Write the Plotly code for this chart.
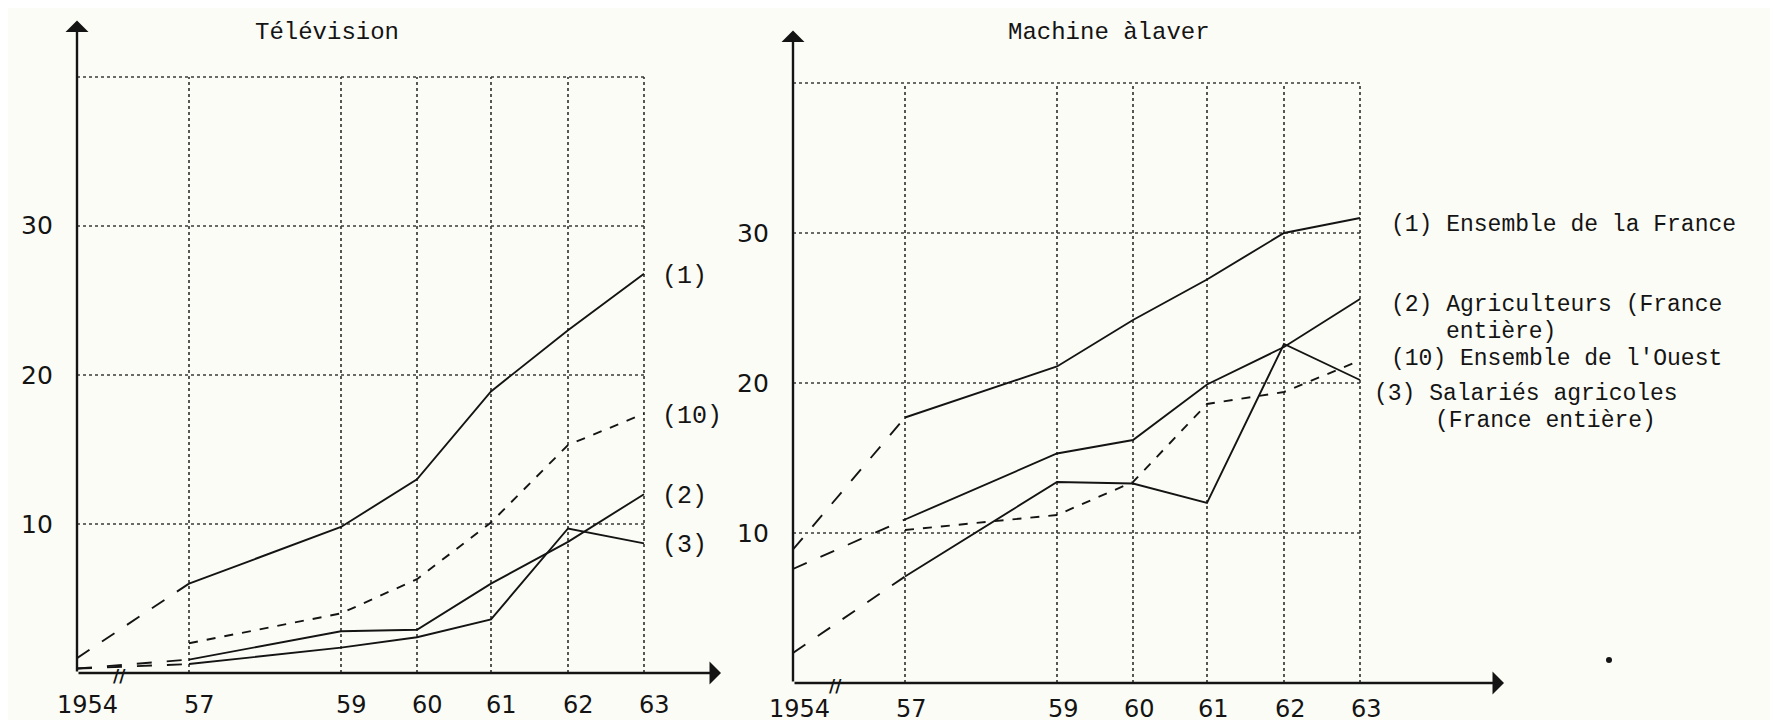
import plotly.graph_objects as go

# ---- data -------------------------------------------------------------
YEAR_LABELS = ["1954", "57", "59", "60", "61", "62", "63"]
# the original time axis is drawn with irregular spacing: position of each year on it
XPOS = [0, 112, 264, 340, 414, 491, 567]

# Télévision (%)
TV_1 = [1.0, 6.0, 9.8, 13.0, 18.9, 23.0, 26.8]       # (1) Ensemble de la France
TV_10 = [None, 2.0, 4.0, 6.3, 10.1, 15.3, 17.4]      # (10) Ensemble de l'Ouest
TV_2 = [0.3, 0.9, 2.8, 2.9, 6.0, 8.8, 12.0]          # (2) Agriculteurs
TV_3 = [0.3, 0.6, 1.7, 2.4, 3.6, 9.7, 8.7]           # (3) Salariés agricoles

# Machine à laver (%)
ML_1 = [8.9, 17.7, 21.1, 24.2, 26.9, 30.0, 31.0]
ML_2 = [7.6, 10.9, 15.3, 16.2, 19.9, 22.4, 25.6]
ML_10 = [None, 10.2, 11.2, 13.4, 18.6, 19.4, 21.5]
ML_3 = [2.0, 7.1, 13.4, 13.3, 12.0, 22.6, 20.2]

GRID_Y = [10, 20, 30, 40]
Y_LABELS = [10, 20, 30]

TITLE_TV = "Télévision"
TITLE_ML = "Machine àlaver"
LEFT_TAGS = ["(1)", "(10)", "(2)", "(3)"]
RIGHT_LEGEND = [
    ("(1) Ensemble de la France", 1382, 217),
    ("(2) Agriculteurs (France", 1382, 297),
    ("entière)", 1437, 324),
    ("(10) Ensemble de l'Ouest", 1382, 351),
    ("(3) Salariés agricoles", 1365, 386),
    ("(France entière)", 1426, 413),
]

W, H = 1778, 720
INK = "#141414"
GRID = "#3a3a3a"
MONO = "Liberation Mono"
HAND = "DejaVu Sans"

fig = go.Figure()

def add_grid(xa, ya):
    for p in XPOS[1:]:
        fig.add_trace(go.Scatter(x=[p, p], y=[0, GRID_Y[-1]], mode="lines",
                                 line=dict(color=GRID, width=1.7, dash="dot"),
                                 xaxis=xa, yaxis=ya, hoverinfo="skip", showlegend=False))
    for g in GRID_Y:
        fig.add_trace(go.Scatter(x=[XPOS[0], XPOS[-1]], y=[g, g], mode="lines",
                                 line=dict(color=GRID, width=1.7, dash="dot"),
                                 xaxis=xa, yaxis=ya, hoverinfo="skip", showlegend=False))

def add_series(vals, xa, ya, dashed_all=False):
    if dashed_all:
        xs = [p for p, v in zip(XPOS, vals) if v is not None]
        ys = [v for v in vals if v is not None]
        fig.add_trace(go.Scatter(x=xs, y=ys, mode="lines",
                                 line=dict(color=INK, width=1.9, dash="dash"),
                                 xaxis=xa, yaxis=ya, showlegend=False))
        return
    if vals[0] is not None:
        fig.add_trace(go.Scatter(x=XPOS[:2], y=vals[:2], mode="lines",
                                 line=dict(color=INK, width=1.9, dash="longdash"),
                                 xaxis=xa, yaxis=ya, showlegend=False))
    fig.add_trace(go.Scatter(x=XPOS[1:], y=vals[1:], mode="lines",
                             line=dict(color=INK, width=1.9),
                             xaxis=xa, yaxis=ya, showlegend=False))

add_grid("x", "y")
add_grid("x2", "y2")
add_series(TV_1, "x", "y")
add_series(TV_10, "x", "y", dashed_all=True)
add_series(TV_2, "x", "y")
add_series(TV_3, "x", "y")
add_series(ML_1, "x2", "y2")
add_series(ML_2, "x2", "y2")
add_series(ML_10, "x2", "y2", dashed_all=True)
add_series(ML_3, "x2", "y2")

ann = []
def axes_arrows(xr, yr, xend, ytop):
    ann.append(dict(x=0, y=ytop, ax=0, ay=0, xref=xr, yref=yr, axref=xr, ayref=yr,
                    showarrow=True, arrowhead=1, arrowsize=1.6, arrowwidth=2.4,
                    arrowcolor=INK, text=""))
    ann.append(dict(x=xend, y=0, ax=0, ay=0, xref=xr, yref=yr, axref=xr, ayref=yr,
                    showarrow=True, arrowhead=1, arrowsize=1.6, arrowwidth=2.4,
                    arrowcolor=INK, text=""))
    ann.append(dict(x=42, y=0, xref=xr, yref=yr, text="<b>//</b>", showarrow=False,
                    font=dict(family=HAND, size=17, color=INK), yshift=-3))

axes_arrows("x", "y", 644, 43.8)
axes_arrows("x2", "y2", 711, 43.5)

def tick_labels(xr, yr, xs, ys_shift):
    for p, lab in zip(XPOS, YEAR_LABELS):
        ann.append(dict(x=p, y=0, xref=xr, yref=yr, text=lab, showarrow=False,
                        xshift=xs, yshift=ys_shift, yanchor="middle", xanchor="center",
                        font=dict(family=HAND, size=24, color=INK)))
    for v in Y_LABELS:
        ann.append(dict(x=0, y=v, xref=xr, yref=yr, text=str(v), showarrow=False,
                        xanchor="right", xshift=-22, yanchor="middle",
                        font=dict(family=HAND, size=25, color=INK)))

tick_labels("x", "y", 10, -32)
tick_labels("x2", "y2", 6, -26)

# titles
ann.append(dict(x=319 / W, y=1 - 25 / H, xref="paper", yref="paper", text=TITLE_TV,
                showarrow=False, xanchor="center", yanchor="middle",
                font=dict(family=MONO, size=24, color=INK)))
ann.append(dict(x=1101 / W, y=1 - 25 / H, xref="paper", yref="paper", text=TITLE_ML,
                showarrow=False, xanchor="center", yanchor="middle",
                font=dict(family=MONO, size=24, color=INK)))

# left-chart series tags
tag_y = {"(1)": 268, "(10)": 408, "(2)": 488, "(3)": 537}
for tag in LEFT_TAGS:
    ann.append(dict(x=652 / W, y=1 - tag_y[tag] / H, xref="paper", yref="paper", text=tag,
                    showarrow=False, xanchor="left", yanchor="middle",
                    font=dict(family=MONO, size=25, color=INK)))

# right-chart legend text
for txt, px, py in RIGHT_LEGEND:
    ann.append(dict(x=px / W, y=1 - py / H, xref="paper", yref="paper", text=txt,
                    showarrow=False, xanchor="left", yanchor="middle", borderpad=0,
                    font=dict(family=MONO, size=23, color=INK)))

shapes = [dict(type="circle", xref="paper", yref="paper",
               x0=1598 / W, x1=1604 / W, y0=1 - 655 / H, y1=1 - 649 / H,
               fillcolor=INK, line=dict(width=0))]

ax_common = dict(showgrid=False, zeroline=False, showline=False, showticklabels=False, ticks="")
fig.update_layout(
    width=W, height=H,
    margin=dict(l=0, r=0, t=0, b=0),
    paper_bgcolor="#fcfcf7", plot_bgcolor="rgba(0,0,0,0)",
    xaxis=dict(domain=[69 / W, 719 / W], range=[0, 650], **ax_common),
    yaxis=dict(domain=[55 / H, 710.6 / H], range=[0, 44], **ax_common),
    xaxis2=dict(domain=[785 / W, 1505 / W], range=[0, 720], anchor="y2", **ax_common),
    yaxis2=dict(domain=[45 / H, 705 / H], range=[0, 44], anchor="x2", **ax_common),
    annotations=ann, shapes=shapes,
)

fig.write_html("out.html")
